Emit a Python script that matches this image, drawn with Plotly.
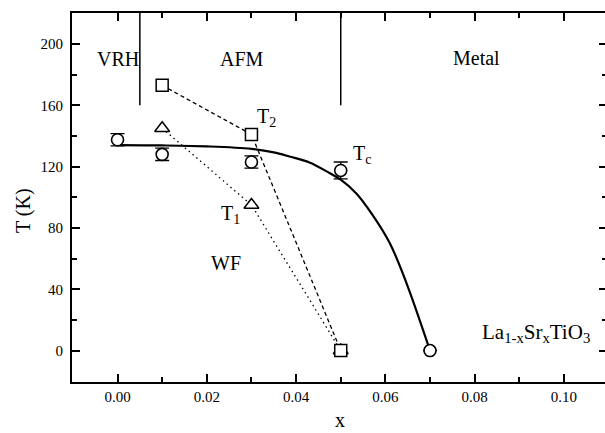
import plotly.graph_objects as go

# ---- data ----
tc_x = [0.00, 0.01, 0.03, 0.05, 0.07]
tc_T = [137.5, 128, 123, 117.5, 0]
tc_err = [4, 4, 4, 5.5, 0]

t2_x = [0.01, 0.03, 0.05]
t2_T = [173, 141, 0]

t1_x = [0.01, 0.03, 0.05]
t1_T = [145, 95, 0]

fit_x = [0.000, 0.010, 0.020, 0.030, 0.035, 0.0385, 0.043, 0.0475, 0.050, 0.0535,
         0.057, 0.061, 0.0646, 0.070]
fit_T = [134, 133.8, 133.2, 131.6, 129.3, 126.6, 122.7, 115.8, 111.5, 102.5,
         89, 70, 45, 0]

boundary_x = [0.005, 0.05]
boundary_T_low = 160
T_top = 220.2

region_labels = ["VRH", "AFM", "Metal", "WF"]
region_x = [0.0, 0.0278, 0.0804, 0.0244]
region_T = [190, 190, 191, 57]

curve_labels = ["T<sub>2</sub>", "T<sub>1</sub>", "T<sub>c</sub>"]
curve_lab_x = [0.0307, 0.0227, 0.0522]
curve_lab_T = [152, 89, 128]

compound = "La<sub>1-x</sub>Sr<sub>x</sub>TiO<sub>3</sub>"
compound_x = 0.0812
compound_T = 11.5

x_range = [-0.0102, 0.1092]
y_range = [-20.5, T_top]

FONT = "Liberation Serif"

fig = go.Figure()

# phase boundary lines (on y2 so right-side ticks are drawn)
bx, by = [], []
for b in boundary_x:
    bx += [b, b, None]
    by += [boundary_T_low, T_top, None]
fig.add_trace(go.Scatter(x=bx, y=by, mode="lines", yaxis="y2",
                         line=dict(color="black", width=1.5), showlegend=False, hoverinfo="skip"))

# fit curve
fig.add_trace(go.Scatter(x=fit_x, y=fit_T, mode="lines",
                         line=dict(color="black", width=2.2, shape="spline", smoothing=1.0),
                         showlegend=False))

# T1 dotted with triangles
fig.add_trace(go.Scatter(x=t1_x, y=t1_T, mode="lines+markers",
                         line=dict(color="black", width=1.3, dash="1.5px,3.5px"),
                         marker=dict(symbol="triangle-up", size=13, color="white",
                                     line=dict(color="black", width=1.5)),
                         showlegend=False))

# T2 dashed with squares
fig.add_trace(go.Scatter(x=t2_x, y=t2_T, mode="lines+markers",
                         line=dict(color="black", width=1.3, dash="4px,3px"),
                         marker=dict(symbol="square", size=12, color="white",
                                     line=dict(color="black", width=1.5)),
                         showlegend=False))

# Tc circles with error bars
fig.add_trace(go.Scatter(x=tc_x, y=tc_T, mode="markers",
                         error_y=dict(type="data", array=tc_err, visible=True,
                                      color="black", thickness=1.3, width=7),
                         marker=dict(symbol="circle", size=12, color="white",
                                     line=dict(color="black", width=1.6)),
                         showlegend=False))

annotations = []
for t, x, y in zip(region_labels, region_x, region_T):
    annotations.append(dict(x=x, y=y, xref="x", yref="y", text=t, showarrow=False,
                            font=dict(family=FONT, size=20, color="black"),
                            xanchor="center", yanchor="middle"))
for t, x, y in zip(curve_labels, curve_lab_x, curve_lab_T):
    annotations.append(dict(x=x, y=y, xref="x", yref="y", text=t, showarrow=False,
                            font=dict(family=FONT, size=20, color="black"),
                            xanchor="left", yanchor="middle"))
annotations.append(dict(x=compound_x, y=compound_T, xref="x", yref="y", text=compound,
                        showarrow=False, font=dict(family=FONT, size=21, color="black"),
                        xanchor="left", yanchor="middle"))
annotations.append(dict(x=-0.0919, y=0.4634, xref="paper", yref="paper", text="T (K)",
                        textangle=-90, showarrow=False,
                        font=dict(family=FONT, size=20, color="black"),
                        xanchor="center", yanchor="middle"))
annotations.append(dict(x=0.503, y=-0.103, xref="paper", yref="paper", text="x",
                        showarrow=False, font=dict(family=FONT, size=20, color="black"),
                        xanchor="center", yanchor="middle"))

tickfont = dict(family=FONT, size=15, color="black")

fig.update_layout(
    width=605, height=433,
    margin=dict(l=72, r=0, t=13, b=51),
    paper_bgcolor="white", plot_bgcolor="white",
    annotations=annotations,
    xaxis=dict(range=x_range, showgrid=False, zeroline=False,
               showline=True, linewidth=2, linecolor="black", mirror="ticks",
               ticks="inside", ticklen=8, tickwidth=2, tickcolor="black",
               tick0=0, dtick=0.02, tickformat=".2f", tickfont=tickfont,
               ticklabelstandoff=0,
               minor=dict(ticks="inside", ticklen=5, tickwidth=2, tickcolor="black",
                          dtick=0.01, tick0=0, showgrid=False)),
    yaxis=dict(range=y_range, showgrid=False, zeroline=False,
               showline=True, linewidth=2, linecolor="black", mirror=False,
               ticks="inside", ticklen=8, tickwidth=2, tickcolor="black",
               tick0=0, dtick=40, tickfont=tickfont, ticklabelstandoff=4,
               minor=dict(ticks="inside", ticklen=5, tickwidth=2, tickcolor="black",
                          dtick=20, tick0=0, showgrid=False)),
    yaxis2=dict(range=y_range, overlaying="y", side="right", showgrid=False,
                zeroline=False, showline=False, showticklabels=False,
                ticks="inside", ticklen=6, tickwidth=2, tickcolor="black",
                tick0=0, dtick=40,
                minor=dict(ticks="inside", ticklen=3, tickwidth=2, tickcolor="black",
                           dtick=20, tick0=0, showgrid=False)),
)

fig.write_html("out.html")
